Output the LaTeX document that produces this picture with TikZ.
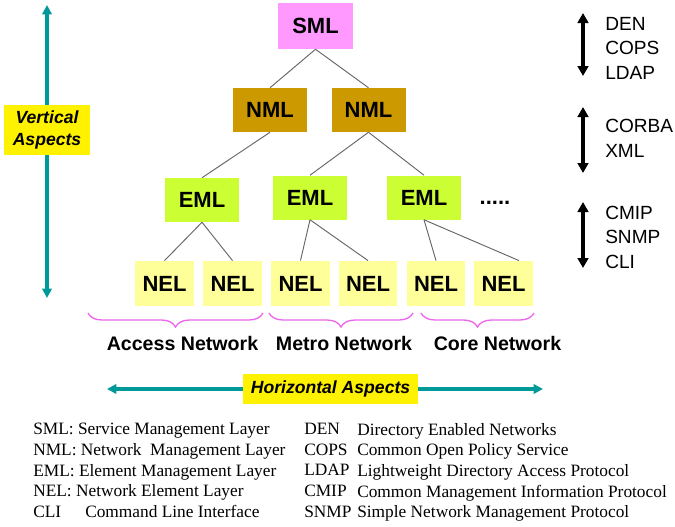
\documentclass[tikz,border=0pt]{standalone}
\usepackage{fontspec}
\setmainfont{Liberation Sans}
\newfontfamily\legendfont{Liberation Serif}
\usetikzlibrary{arrows.meta, decorations.pathreplacing}

\definecolor{smlpink}{HTML}{FF99FF}
\definecolor{nmlgold}{HTML}{CC9900}
\definecolor{emllime}{HTML}{CCFF33}
\definecolor{nelyellow}{HTML}{FFFF99}
\definecolor{aspectteal}{HTML}{009999}
\definecolor{bracepink}{HTML}{EE66EE}

\begin{document}
\begin{tikzpicture}[x=0.75pt, y=-0.75pt,
  layer/.style={inner sep=0pt, font=\bfseries\fontsize{16.5}{18}\selectfont},
  smlbox/.style={layer, fill=smlpink, minimum width=56pt, minimum height=34.5pt},
  nmlbox/.style={layer, fill=nmlgold, minimum width=55.5pt, minimum height=33pt},
  emlbox/.style={layer, fill=emllime, minimum width=55.5pt, minimum height=33pt},
  nelbox/.style={layer, fill=nelyellow, minimum width=44pt, minimum height=34pt},
  link/.style={draw=black!60, line width=0.7pt},
  aspectbox/.style={fill=yellow, inner sep=0pt, align=center,
    font=\bfseries\itshape\fontsize{13.2}{16.5}\selectfont},
  aspect/.style={aspectteal, line width=2.4pt, -{Triangle[length=7pt, width=7pt]}},
  proto/.style={line width=2.7pt, {Triangle[length=7.5pt, width=8pt]}-{Triangle[length=7.5pt, width=8pt]}},
  prototext/.style={anchor=west, inner sep=0pt, align=left,
    font=\fontsize{14.3}{18.4}\selectfont},
  netbrace/.style={bracepink, line width=1pt,
    decorate, decoration={brace, mirror, amplitude=10.5pt}},
  netlabel/.style={font=\bfseries\fontsize{14.7}{16}\selectfont, inner sep=0pt},
  legend/.style={anchor=north west, inner sep=0pt, align=left,
    font=\legendfont\fontsize{13}{15.5}\selectfont}
]
  \useasboundingbox[fill=white] (0,0) rectangle (675,526);

  % livelli
  \node[smlbox] (sml) at (315.5,26) {SML};
  \node[nmlbox] (nml1) at (270,110) {NML};
  \node[nmlbox] (nml2) at (368.5,110) {NML};
  \node[emlbox] (eml1) at (202,200) {EML};
  \node[emlbox] (eml2) at (310,197.5) {EML};
  \node[emlbox] (eml3) at (424,197.5) {EML};
  \node[anchor=base, inner sep=0pt, font=\bfseries\fontsize{16.5}{18}\selectfont] (more) at (495,204) {.....};
  \foreach \n/\x in {1/164.5, 2/232.5, 3/300.5, 4/368, 5/436, 6/503.5}
    \node[nelbox] (nel\n) at (\x,283.5) {NEL};

  % collegamenti
  \foreach \a/\b in {sml/nml1, sml/nml2, nml1/eml1, nml2/eml2, nml2/eml3,
                     eml1/nel1, eml1/nel2, eml2/nel3, eml2/nel4, eml3/nel5}
    \draw[link] (\a.south) -- (\b.north);
  \draw[link] (eml3.south) -- ([xshift=11.6pt]nel6.north);

  % reti
  \draw[netbrace] (88,313) -- (263,313);
  \draw[netbrace] (269,313) -- (413,313);
  \draw[netbrace] (421,313) -- (534,313);
  \node[netlabel, anchor=base] (access) at (182.5,350) {Access Network};
  \node[netlabel, anchor=base] (metro) at (344,350) {Metro Network};
  \node[netlabel, anchor=base] (core) at (497.5,350) {Core Network};

  % aspetti verticali
  \node[aspectbox, minimum width=64.5pt, minimum height=37.5pt] (vasp) at (47,130) {Vertical\\Aspects};
  \coordinate (vtop) at (47,5);
  \coordinate (vbot) at (47,298);
  \draw[aspect] (vasp.north) -- (vtop);
  \draw[aspect] (vasp.south) -- (vbot);

  % aspetti orizzontali
  \node[aspectbox, minimum width=131pt, minimum height=22.5pt] (hasp) at (330.5,389) {Horizontal Aspects};
  \coordinate (hleft) at (107,389);
  \coordinate (hright) at (543,389);
  \draw[aspect] (hasp.west) -- (hleft);
  \draw[aspect] (hasp.east) -- (hright);

  % protocolli
  \foreach \n/\t/\b in {1/13/76, 2/107/173, 3/202/268} {
    \coordinate (up\n) at (583,\t);
    \coordinate (dn\n) at (583,\b);
    \draw[proto] (up\n) -- (dn\n);
  }
  \node[prototext] (proto1) at (605,48) {DEN\\COPS\\LDAP};
  \node[prototext] (proto2) at (605,138.5) {CORBA\\XML};
  \node[prototext] (proto3) at (605,237) {CMIP\\SNMP\\CLI};

  % legenda
  \node[legend] (legleft) at (33,423) {SML: Service Management Layer\\
    NML: Network\ \ Management Layer\\
    EML: Element Management Layer\\
    NEL: Network Element Layer\\
    \makebox[39pt][l]{CLI}Command Line Interface};
  \node[legend] (legabbr) at (304,423) {DEN\\COPS\\LDAP\\CMIP\\SNMP};
  \node[legend] (legdesc) at (357,423) {Directory Enabled Networks\\
    Common Open Policy Service\\
    Lightweight Directory Access Protocol\\
    Common Management Information Protocol\\
    Simple Network Management Protocol};
\end{tikzpicture}
\end{document}
